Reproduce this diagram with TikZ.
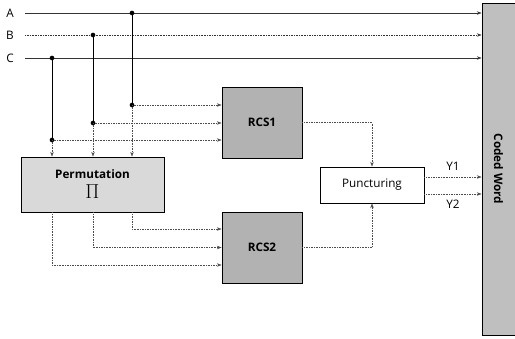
\documentclass[tikz,border=0pt]{standalone}
\usepackage{fontspec}
\setmainfont{Open Sans}
\usetikzlibrary{positioning,arrows.meta}

\begin{document}
\begin{tikzpicture}[x=0.03cm,y=-0.03cm,
  blk/.style={draw, thick, minimum width=2.4cm, minimum height=2.13cm, font=\bfseries, fill=gray!60},
  sig/.style={densely dotted, gray!60!black, -{Stealth[length=4pt,width=3pt]}},
  inp/.style={gray!40!black, -{Stealth[length=4pt,width=3pt]}},
  tap/.style={semithick},
  lbl/.style={text=black}]
\useasboundingbox (0,0) rectangle (515,338);
% blocks:
\node[blk, fill=gray!30, minimum width=4.29cm, minimum height=1.65cm, align=center] (perm) at (92.5,184.5) {Permutation\\[5pt]{\LARGE$\Pi$}};
\node[blk] (rcsone) at (262,122.5) {RCS1};
\node[blk] (rcstwo) at (262,247.5) {RCS2};
\node[draw, thick, fill=white, minimum width=3.12cm, minimum height=1.08cm] (punct) at (372,185) {Puncturing};
\node[draw, thick, fill=gray!50, minimum width=0.99cm, minimum height=9.96cm,
  label={[rotate=-90, font=\bfseries]center:Coded Word}] (coded) at (498.5,169) {};
% inputs:
\node[lbl] (labA) at (10,13) {A};
\node[lbl] (labB) at (10,35) {B};
\node[lbl] (labC) at (10,58) {C};
\coordinate (inA) at (25,13);
\coordinate (inB) at (25,35);
\coordinate (inC) at (25,58);
\draw[inp] (inA) -- (inA -| coded.west);
\draw[inp, densely dotted] (inB) -- (inB -| coded.west);
\draw[inp] (inC) -- (inC -| coded.west);
% taps:
\coordinate (dA) at (132,13); \coordinate (tA) at (132,105);
\coordinate (dB) at (93,35);  \coordinate (tB) at (93,123);
\coordinate (dC) at (52,58);  \coordinate (tC) at (52,140);
\draw[tap] (dA) -- (tA) (dB) -- (tB) (dC) -- (tC);
\fill (dA) circle (2pt) (tA) circle (2pt) (dB) circle (2pt) (tB) circle (2pt) (dC) circle (2pt) (tC) circle (2pt);
\draw[sig] (tA) -- (tA -| rcsone.west);
\draw[sig] (tB) -- (tB -| rcsone.west);
\draw[sig] (tC) -- (tC -| rcsone.west);
\draw[sig] (tA) -- (tA |- perm.north);
\draw[sig] (tB) -- (tB |- perm.north);
\draw[sig] (tC) -- (tC |- perm.north);
% permuted:
\draw[sig] (tA |- perm.south) |- ([yshift=0.555cm]rcstwo.west);
\draw[sig] (tB |- perm.south) |- (rcstwo.west);
\draw[sig] (tC |- perm.south) |- ([yshift=-0.525cm]rcstwo.west);
% outputs:
\draw[sig] (rcsone.east) -| (punct.north);
\draw[sig] (rcstwo.east) -| (punct.south);
\coordinate (oY1) at ([yshift=0.24cm]punct.east);
\coordinate (oY2) at ([yshift=-0.27cm]punct.east);
\draw[sig] (oY1) -- (oY1 -| coded.west) node[lbl, midway, above=2pt] {Y1};
\draw[sig] (oY2) -- (oY2 -| coded.west) node[lbl, midway, below=2pt] {Y2};
\end{tikzpicture}
\end{document}
